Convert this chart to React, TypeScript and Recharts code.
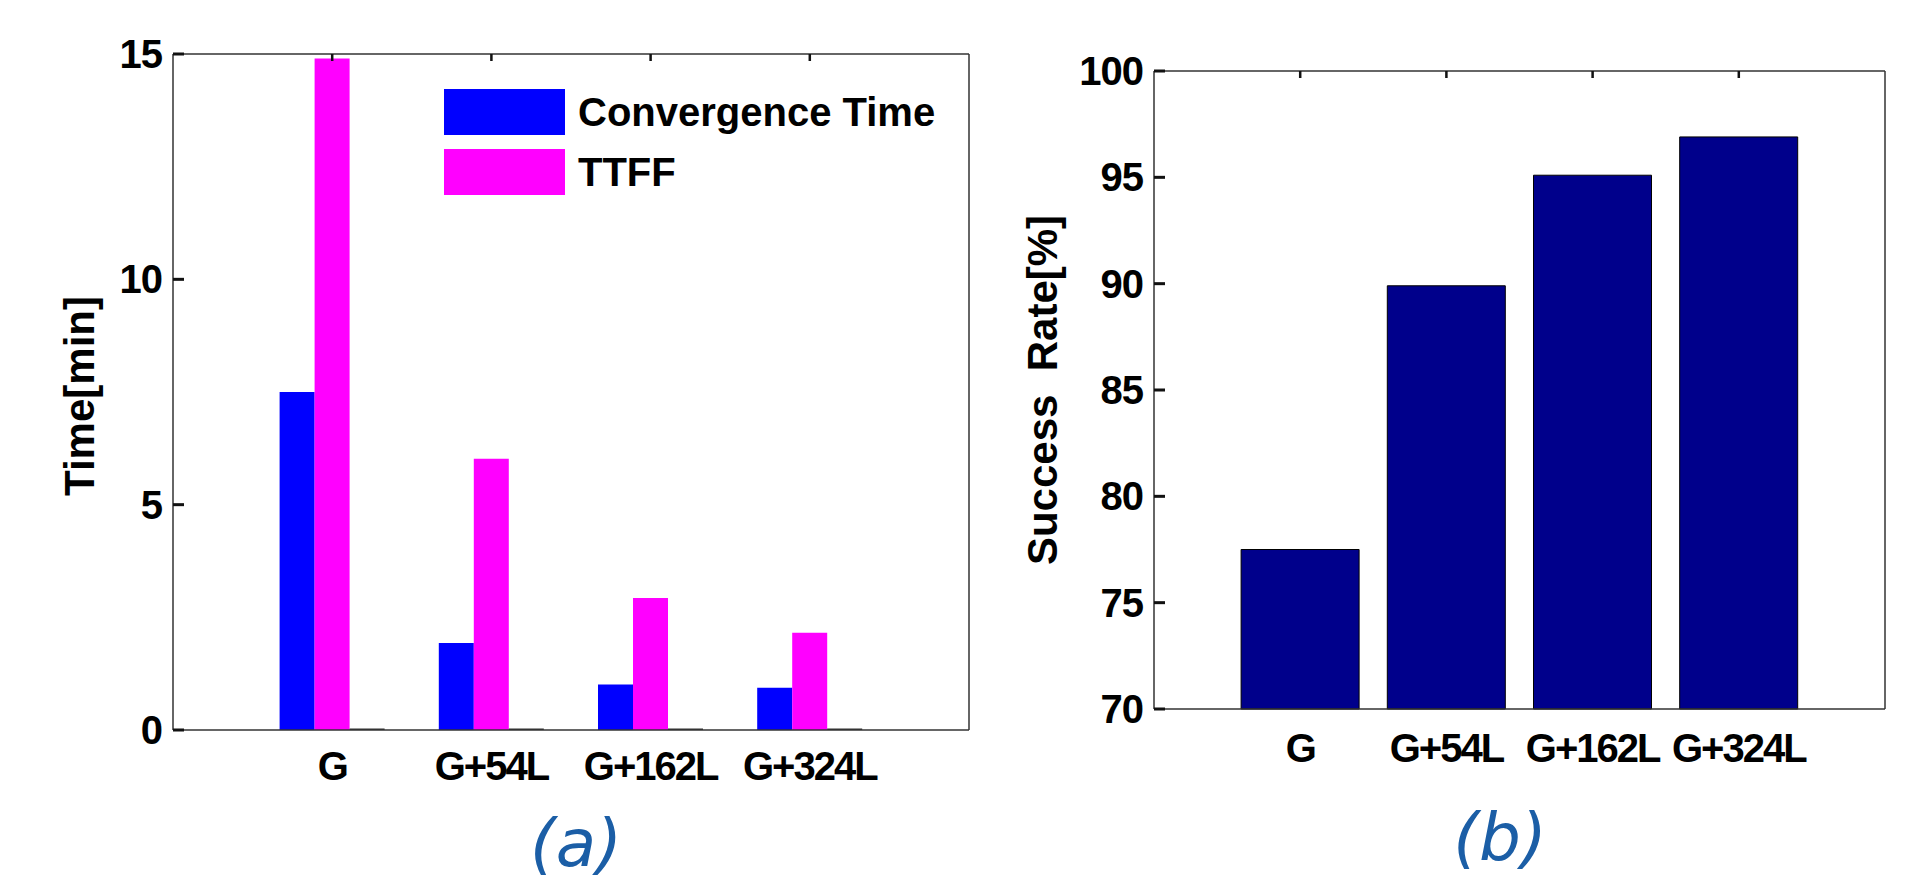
import React from "react";
import { BarChart, Bar, XAxis, YAxis, Legend } from "recharts";

const categories = ["G", "G+54L", "G+162L", "G+324L"];
const convergenceTime = [7.5, 1.93, 1.01, 0.94];
const ttff = [14.9, 6.02, 2.93, 2.16];
const emptySeries = [0, 0, 0, 0]; // third (empty) group member, shows as dark baseline segment
const successRate = [77.5, 89.9, 95.1, 96.9];
const timeTicks = [0, 5, 10, 15];
const rateTicks = [70, 75, 80, 85, 90, 95, 100];

const timeData = categories.map((name, i) => ({
    name,
    conv: convergenceTime[i],
    ttff: ttff[i],
    empty: emptySeries[i],
}));
const rateData = categories.map((name, i) => ({ name, rate: successRate[i] }));

const FONT = "'Liberation Sans', Arial, sans-serif";
const AXIS = { stroke: "#333", strokeWidth: 1.5 };
const TICK_COLOR = "#111";
const xTickFont = { fontSize: 40, fontWeight: 700, fill: "#000", fontFamily: FONT, letterSpacing: -2 };
const LABEL_GAP = 11;

// left y tick: label + short inward tick mark starting at the axis
const LeftTick = (props: any) => {
    const { x, y, payload } = props;
    const axisX = Number(x) + LABEL_GAP;
    return (
        <g>
            <rect x={axisX} y={Number(y) - 1.5} width={11} height={3} fill={TICK_COLOR} />
            <text x={x} y={y} textAnchor="end" dominantBaseline="central" fontSize={40} fontWeight={700} fontFamily={FONT} fill="#000" letterSpacing={-1}>
                {payload.value}
            </text>
        </g>
    );
};

// right y axis: inward tick only
const RightTick = (props: any) => (
    <rect x={Number(props.x) - 9} y={Number(props.y) - 1.5} width={9} height={3} fill={TICK_COLOR} />
);

// top x axis: inward tick only
const TopTick = (props: any) => (
    <rect x={Number(props.x) - 1.25} y={Number(props.y)} width={2.5} height={7} fill={TICK_COLOR} />
);

const AxisTitle = ({ cx, cy, text }: { cx: number; cy: number; text: string }) => (
    <text
        x={cx}
        y={cy}
        transform={`rotate(-90 ${cx} ${cy})`}
        textAnchor="middle"
        dominantBaseline="central"
        fontSize={42}
        fontWeight={700}
        fontFamily={FONT}
        fill="#000"
        style={{ whiteSpace: "pre" }}
    >
        {text}
    </text>
);

const LegendBox = (props: any) => {
    const items = (props.payload || []).filter((p: any) => p.type !== "none");
    return (
        <div style={{ fontFamily: FONT }}>
            {items.map((p: any) => (
                <div key={p.value} style={{ display: "flex", alignItems: "center", height: 46, marginBottom: 14 }}>
                    <div style={{ width: 121, height: 46, background: p.color }} />
                    <span style={{ marginLeft: 13, fontSize: 40, fontWeight: 700, color: "#000" }}>{p.value}</span>
                </div>
            ))}
        </div>
    );
};

const TimeChart = () => {
    const padX = 796 / 10;
    return (
        <BarChart
            width={1000}
            height={879}
            data={timeData}
            margin={{ top: 53, right: 30, bottom: 89, left: 73 }}
            barGap={0}
        >
            <XAxis
                dataKey="name"
                xAxisId="bottom"
                height={60}
                padding={{ left: padX, right: padX }}
                axisLine={AXIS}
                tickLine={false}
                tickSize={0}
                tickMargin={22}
                tick={xTickFont}
                interval={0}
            />
            <XAxis
                dataKey="name"
                xAxisId="top"
                orientation="top"
                height={1}
                padding={{ left: padX, right: padX }}
                axisLine={AXIS}
                tickLine={false}
                tickSize={0}
                tickMargin={0}
                tick={<TopTick />}
                interval={0}
            />
            <YAxis
                yAxisId="left"
                width={100}
                domain={[0, 15]}
                ticks={timeTicks}
                axisLine={AXIS}
                tickLine={false}
                tickSize={0}
                tickMargin={LABEL_GAP}
                tick={<LeftTick />}
                label={<AxisTitle cx={79} cy={396} text="Time[min]" />}
            />
            <YAxis
                yAxisId="right"
                orientation="right"
                width={1}
                domain={[0, 15]}
                ticks={timeTicks}
                axisLine={AXIS}
                tickLine={false}
                tickSize={0}
                tickMargin={0}
                tick={<RightTick />}
            />
            <Legend
                layout="vertical"
                align="center"
                verticalAlign="middle"
                content={<LegendBox />}
                wrapperStyle={{ left: 444, top: 89, width: 520 }}
            />
            <Bar dataKey="conv" name="Convergence Time" xAxisId="bottom" yAxisId="left" fill="#0000ff" barSize={35} isAnimationActive={false} />
            <Bar dataKey="ttff" name="TTFF" xAxisId="bottom" yAxisId="left" fill="#ff00ff" barSize={35} isAnimationActive={false} />
            <Bar dataKey="empty" name="empty" legendType="none" xAxisId="bottom" yAxisId="left" fill="#333" barSize={35} minPointSize={1.5} isAnimationActive={false} />
        </BarChart>
    );
};

const RateChart = () => {
    const padX = 731 / 10;
    return (
        <BarChart
            width={927}
            height={879}
            data={rateData}
            margin={{ top: 70, right: 41, bottom: 110, left: 54 }}
        >
            <XAxis
                dataKey="name"
                xAxisId="bottom"
                height={60}
                padding={{ left: padX, right: padX }}
                axisLine={AXIS}
                tickLine={false}
                tickSize={0}
                tickMargin={25}
                tick={xTickFont}
                interval={0}
            />
            <XAxis
                dataKey="name"
                xAxisId="top"
                orientation="top"
                height={1}
                padding={{ left: padX, right: padX }}
                axisLine={AXIS}
                tickLine={false}
                tickSize={0}
                tickMargin={0}
                tick={<TopTick />}
                interval={0}
            />
            <YAxis
                yAxisId="left"
                width={100}
                domain={[70, 100]}
                ticks={rateTicks}
                axisLine={AXIS}
                tickLine={false}
                tickSize={0}
                tickMargin={LABEL_GAP}
                tick={<LeftTick />}
                label={<AxisTitle cx={42} cy={390} text="Success  Rate[%]" />}
            />
            <YAxis
                yAxisId="right"
                orientation="right"
                width={1}
                domain={[70, 100]}
                ticks={rateTicks}
                axisLine={AXIS}
                tickLine={false}
                tickSize={0}
                tickMargin={0}
                tick={<RightTick />}
            />
            <Bar dataKey="rate" name="Success Rate" xAxisId="bottom" yAxisId="left" fill="#00008b" stroke="#000" strokeWidth={1} barSize={118} isAnimationActive={false} />
        </BarChart>
    );
};

export default function App() {
    return (
        <div style={{ position: "absolute", left: 0, top: 0, width: 1927, height: 879, background: "#fff", overflow: "hidden" }}>
            <div style={{ position: "absolute", left: 0, top: 0 }}>
                <TimeChart />
            </div>
            <div style={{ position: "absolute", left: 1000, top: 0 }}>
                <RateChart />
            </div>
            <svg width={1927} height={879} style={{ position: "absolute", left: 0, top: 0, pointerEvents: "none" }}>
                <text x={576} y={866} textAnchor="middle" fontSize={66} fontStyle="italic" fontFamily="'DejaVu Sans', Verdana, sans-serif" fill="#1b5ea6">
                    (a)
                </text>
                <text x={1500} y={860} textAnchor="middle" fontSize={66} fontStyle="italic" fontFamily="'DejaVu Sans', Verdana, sans-serif" fill="#1b5ea6">
                    (b)
                </text>
            </svg>
        </div>
    );
}
